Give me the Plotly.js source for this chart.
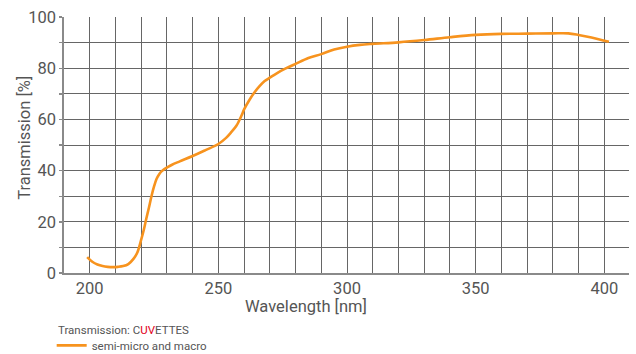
<!DOCTYPE html>
<html>
<head>
<meta charset="utf-8">
<script src="https://cdn.plot.ly/plotly-3.0.1.min.js"></script>
<style>html,body{margin:0;padding:0;background:#fff;}#chart{width:636px;height:354px;}</style>
</head>
<body>
<div id="chart"></div>
<script>
// Data
const wavelength = [199, 201, 203, 205, 207, 209, 211, 213, 215, 217, 218.5, 220, 221, 222, 223, 224, 225, 226, 227, 228, 229, 230, 232, 235, 240, 245, 250, 253, 255, 257, 259, 260, 262, 264, 266, 268, 270, 273, 276, 280, 285, 290, 295, 300, 305, 310, 320, 330, 340, 350, 360, 370, 380, 386, 390, 395, 401.8];
const transmission = [6.2, 4.4, 3.3, 2.7, 2.4, 2.3, 2.4, 2.7, 3.5, 5.5, 8, 13, 16.8, 21.3, 25.5, 30, 33.8, 36.8, 38.6, 39.8, 40.6, 41.2, 42.3, 43.6, 45.7, 48, 50.4, 52.8, 55, 57.5, 61.5, 63.9, 67.5, 70.5, 73, 75, 76.3, 78.2, 79.8, 81.7, 84, 85.5, 87.3, 88.4, 89.1, 89.5, 90.1, 91, 92.1, 93, 93.4, 93.5, 93.6, 93.6, 93, 92, 90.3];
const seriesName = 'semi-micro and macro';
const legendTitle = 'Transmission: C<span style="color:#e2001a">UV</span>ETTES';
const xTickVals = [200, 210, 220, 230, 240, 250, 260, 270, 280, 290, 300, 310, 320, 330, 340, 350, 360, 370, 380, 390, 400];
const xTickText = ['200', '', '', '', '', '250', '', '', '', '', '300', '', '', '', '', '350', '', '', '', '', '400'];
const yTickVals = [0, 10, 20, 30, 40, 50, 60, 70, 80, 90, 100];
const yTickText = ['0', '', '20', '', '40', '', '60', '', '80', '', '100'];
const yGridVals = [10, 20, 30, 40, 50, 60, 70, 80, 90];
const xTitle = 'Wavelength [nm]';
const yTitle = 'Transmission [%]';

const FONT = 'Roboto, "Noto Sans", sans-serif';
const GRID = '#666666';
const TXT = '#555555';

const trace = {
  x: wavelength, y: transmission, type: 'scatter', mode: 'lines',
  name: seriesName,
  line: {color: '#f7931e', width: 2.6, shape: 'spline', smoothing: 1},
  hoverinfo: 'skip'
};
// empty helper trace so the grid-only overlay axis is drawn
const gridHelper = {x: [null], y: [null], yaxis: 'y2', type: 'scatter', mode: 'lines', showlegend: false, hoverinfo: 'skip'};

const layout = {
  width: 636, height: 354,
  margin: {l: 64, r: 7, t: 17, b: 80.5, pad: 0, autoexpand: false},
  paper_bgcolor: '#ffffff', plot_bgcolor: '#ffffff',
  font: {family: FONT, color: TXT, size: 16},
  showlegend: true,
  legend: {
    x: -0.0218, xanchor: 'left', y: (273.5 - 346) / 256.5, yanchor: 'middle',
    bgcolor: 'rgba(0,0,0,0)', borderwidth: 0,
    font: {family: FONT, size: 11.5, color: TXT},
    tracegroupgap: 0, itemwidth: 30
  },
  xaxis: {
    range: [190, 409.6], tickvals: xTickVals, ticktext: xTickText,
    showgrid: true, gridcolor: GRID, gridwidth: 1,
    showline: true, linecolor: '#8a8a8a', linewidth: 1.6,
    ticks: '', zeroline: false, fixedrange: true,
    tickfont: {family: FONT, size: 16.5, color: TXT}
  },
  yaxis: {
    range: [0, 100], tickvals: yTickVals, ticktext: yTickText,
    showgrid: false,
    showline: true, linecolor: '#8a8a8a', linewidth: 1.6,
    ticks: 'outside', ticklen: 3, tickcolor: '#8a8a8a', tickwidth: 1.4,
    zeroline: false, fixedrange: true,
    tickfont: {family: FONT, size: 16.5, color: TXT}
  },
  yaxis2: {
    overlaying: 'y', side: 'left', range: [0, 100], tickvals: yGridVals,
    showticklabels: false, ticks: '', showline: false, zeroline: false,
    showgrid: true, gridcolor: GRID, gridwidth: 1, fixedrange: true
  },
  annotations: [
    {text: xTitle, xref: 'paper', yref: 'paper', x: (306 - 64) / 565, y: -(307.5 - 273.5) / 256.5,
     xanchor: 'center', yanchor: 'middle', showarrow: false, font: {family: FONT, size: 16.5, color: TXT}},
    {text: yTitle, xref: 'paper', yref: 'paper', x: (25 - 64) / 565, y: (273.5 - 138) / 256.5,
     xanchor: 'center', yanchor: 'middle', textangle: -90, showarrow: false, font: {family: FONT, size: 16.5, color: TXT}},
    {text: legendTitle, xref: 'paper', yref: 'paper', x: (56 - 64) / 565, y: (273.5 - 331) / 256.5,
     xanchor: 'left', yanchor: 'middle', showarrow: false, font: {family: FONT, size: 11.5, color: TXT}}
  ]
};

Plotly.newPlot('chart', [trace, gridHelper], layout, {staticPlot: true, displayModeBar: false});
</script>
</body>
</html>
